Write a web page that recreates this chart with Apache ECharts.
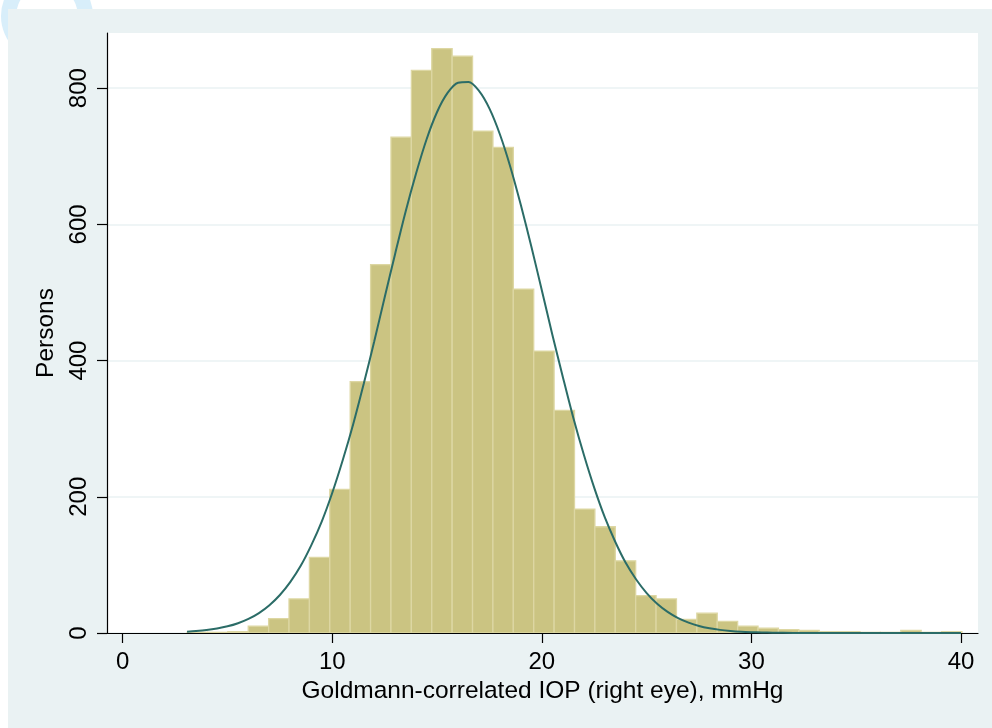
<!DOCTYPE html>
<html>
<head>
<meta charset="utf-8">
<script src="https://cdn.jsdelivr.net/npm/echarts@6/dist/echarts.min.js"></script>
<style>
html,body{margin:0;padding:0;background:#fff;}
#c{width:992px;height:728px;}
</style>
</head>
<body>
<div id="c"></div>
<script>
// Histogram bins (IOP, mmHg)
const binStart = 3.07;
const binWidth = 0.973;
const counts = [1, 1, 2, 10, 21, 50, 111, 211, 369, 541, 728, 826, 858, 847, 737, 713, 505, 414, 327, 182, 156, 106, 55, 50, 20, 29, 17, 10, 7, 5, 4, 2, 2, 1, 1, 4, 1, 2];

// Normal density overlay
const curveX = [3.07, 3.5, 4, 4.5, 5, 5.5, 6, 6.5, 7, 7.5, 8, 8.5, 9, 9.5, 10, 10.5, 11, 11.5, 12, 12.5, 13, 13.5, 14, 14.5, 15, 15.5, 16, 16.5, 17, 17.5, 18, 18.5, 19, 19.5, 20, 20.5, 21, 21.5, 22, 22.5, 23, 23.5, 24, 24.5, 25, 25.5, 26, 26.5, 27, 27.5, 28, 28.5, 29, 29.5, 30, 30.5, 31, 32, 33, 34, 35, 36, 37, 38, 39, 40];
const curveY = [1.9, 2.8, 4.3, 6.6, 9.8, 14.4, 20.7, 29.3, 40.8, 55.8, 75, 99, 129, 164, 206, 254, 307, 366, 428, 493, 557, 619, 675, 725, 765, 793, 808, 809, 796, 770, 732, 684, 628, 567, 503, 438, 376, 316, 262, 213, 170, 134, 103, 78.5, 58.6, 42.9, 31, 21.9, 15.3, 10.4, 7.0, 4.6, 3.0, 1.9, 1.2, 0.7, 0.45, 0.15, 0.05, 0, 0, 0, 0, 0, 0, 0];

const xTicks = [0, 10, 20, 30, 40];
const yTicks = [0, 200, 400, 600, 800];
const xTitle = 'Goldmann-correlated IOP (right eye), mmHg';
const yTitle = 'Persons';

const barData = counts.map((c, i) => [binStart + i * binWidth, binStart + (i + 1) * binWidth, c]);
const lineData = curveX.map((x, i) => [x, curveY[i]]);

const FONT = '"Liberation Sans", Arial, Helvetica, sans-serif';
const chart = echarts.init(document.getElementById('c'), null, {renderer: 'canvas'});
chart.setOption({
  backgroundColor: '#ffffff',
  animation: false,
  graphic: [
    {type: 'ring', z: -3, shape: {cx: 47, cy: 16, r: 46, r0: 31}, style: {fill: '#d8eefa'}},
    {type: 'rect', z: -2, shape: {x: 8, y: 9, width: 984, height: 719}, style: {fill: '#eaf2f3'}}
  ],
  grid: {
    left: 107, right: 14, top: 33, bottom: 95,
    show: true, backgroundColor: '#ffffff', borderWidth: 0,
    containLabel: false, outerBoundsMode: 'none'
  },
  xAxis: {
    type: 'value', min: -0.75, max: 40.81,
    name: xTitle, nameLocation: 'middle', nameGap: 44,
    nameTextStyle: {color: '#000', fontSize: 24.5, fontFamily: FONT},
    axisLine: {show: true, onZero: false, lineStyle: {color: '#000', width: 1.2}},
    axisTick: {show: true, length: 10, inside: false, customValues: xTicks, lineStyle: {color: '#000', width: 1.2}},
    axisLabel: {show: true, margin: 17, customValues: xTicks, color: '#000', fontSize: 24, fontFamily: FONT},
    splitLine: {show: false}
  },
  yAxis: {
    type: 'value', min: 0, max: 881, interval: 200,
    name: yTitle, nameLocation: 'middle', nameGap: 40, nameRotate: 90,
    nameTextStyle: {color: '#000', fontSize: 24.5, fontFamily: FONT},
    axisLine: {show: true, onZero: false, lineStyle: {color: '#000', width: 1.2}},
    axisTick: {show: true, length: 10, inside: false, customValues: yTicks, lineStyle: {color: '#000', width: 1.2}},
    axisLabel: {show: true, rotate: 90, margin: 16, customValues: yTicks, color: '#000', fontSize: 24, fontFamily: FONT},
    splitLine: {show: true, lineStyle: {color: '#eaf2f3', width: 1.5}}
  },
  series: [
    {
      type: 'custom',
      name: 'Histogram',
      data: barData,
      encode: {x: [0, 1], y: 2},
      clip: true,
      renderItem: function (params, api) {
        const p0 = api.coord([api.value(0), api.value(2)]);
        const p1 = api.coord([api.value(1), 0]);
        return {
          type: 'rect',
          shape: {x: p0[0], y: p0[1], width: p1[0] - p0[0], height: p1[1] - p0[1]},
          style: {fill: '#cbc482', stroke: '#ddd7a3', lineWidth: 1.3}
        };
      },
      z: 2
    },
    {
      type: 'line',
      name: 'Normal',
      data: lineData,
      smooth: 0.3,
      showSymbol: false,
      symbol: 'none',
      lineStyle: {color: '#2b6c67', width: 2},
      z: 3
    }
  ]
});
</script>
</body>
</html>
